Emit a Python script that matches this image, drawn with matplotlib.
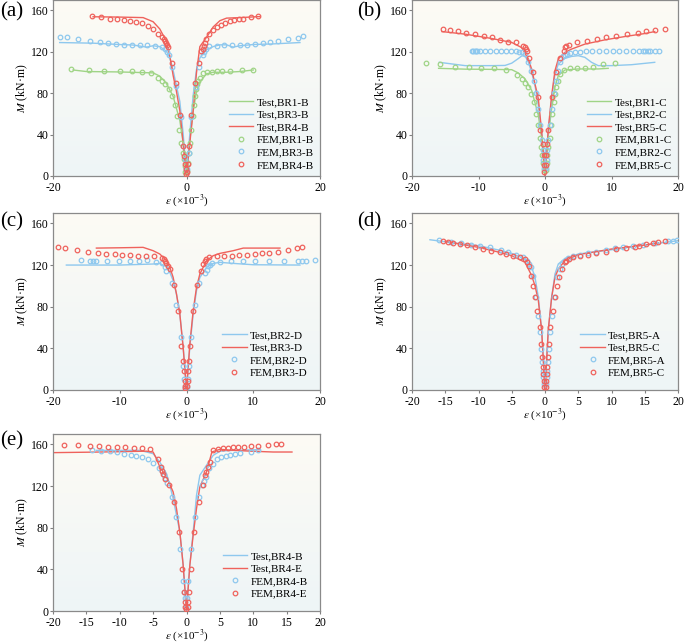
import numpy as np
import matplotlib
matplotlib.use('Agg')
import matplotlib.pyplot as plt
from matplotlib.colors import LinearSegmentedColormap

plt.rcParams['font.family'] = ['Liberation Serif', 'DejaVu Serif']
plt.rcParams['mathtext.fontset'] = 'stix'
plt.rcParams['axes.unicode_minus'] = False

GREEN = '#9fd486'
BLUE = '#8ec8ee'
RED = '#ef625c'

# ---- panel (a) ----
a_test_br1_x = [-17, -15, -10, -5, -4, -3, -2, -1, -0.5, 0, 0.5, 1, 1.5, 2, 3, 4, 6, 8, 10]
a_test_br1_y = [102.4, 100.9, 100.5, 99.6, 96.5, 89.3, 76.9, 53.5, 31.8, 0, 34.9, 62.9, 81.6, 90.9, 98.7, 100.2, 100.2, 100.9, 102.4]
a_test_br3_x = [-19, -14, -10, -8, -6, -5, -4, -3, -2.5, -2, -1, -0.5, 0, 0.5, 1, 1.5, 2, 3, 4, 5, 6, 7, 8, 10, 13, 17]
a_test_br3_y = [128.9, 128.3, 127, 126.5, 124.5, 125.8, 125, 120.5, 114, 102, 72, 41, 0, 41, 78, 103, 114, 122, 125, 126.7, 126.7, 124.5, 125.8, 127, 127.6, 128.9]
a_test_br4_x = [-14, -10, -6.5, -5, -4, -3, -2.5, -2, -1.5, -1, -0.5, 0, 0.5, 1, 1.5, 2, 3, 4, 5, 6, 8, 11]
a_test_br4_y = [153.8, 153.5, 153, 149, 142, 130, 116, 97, 81.5, 63, 32, 0, 32, 63, 100, 125, 134, 144, 150, 152.5, 153, 154]

a_fem_br1_x = [-17.35, -14.6, -12.4, -10, -8.15, -6.6, -5.35, -4.2, -3.65, -3.15, -2.6, -2.15, -1.7, -1.35, -1.05, -0.75, -0.55, -0.4, -0.25, -0.15,
               0.1, 0.2, 0.35, 0.5, 0.65, 0.95, 1.1, 1.25, 1.4, 1.6, 1.75, 2.0, 2.5, 3.1, 3.85, 4.6, 5.25, 6.5, 8.35, 10]
a_fem_br1_y = [103, 102.7, 101.2, 101.2, 101.2, 100.5, 99.6, 94.9, 91.8, 88.7, 84, 77.5, 68.5, 58.2, 44.8, 31.8, 22.4, 16.2, 10, 3.7,
               5.3, 13, 22.4, 31.8, 44.8, 58.2, 68.5, 77.5, 84, 88.7, 91.8, 94.9, 99.6, 100.2, 100.9, 101.2, 101.2, 101.2, 102.7, 102.7]
a_fem_br3_x = [-19, -17.9, -16.2, -14.4, -13, -11.75, -10.5, -9.4, -8.2, -7, -5.85, -4.65, -3.6, -3.2, -2.9, -2.65, -2.1, -1.5, -0.8, -0.45, -0.25, -0.1,
               0.1, 0.3, 0.65, 1.35, 1.85, 2.4, 2.6, 2.85, 3.4, 4.6, 5.65, 6.85, 8, 9.1, 10.25, 11.4, 12.5, 13.75, 15.25, 16.65, 17.5]
a_fem_br3_y = [134.5, 133.9, 132.3, 130.4, 129.2, 128.6, 127.6, 127, 127, 127, 126.7, 126, 124.8, 122.6, 119.5, 116.7, 104.9, 87.2, 56.7, 28.6, 16.2, 6.8,
               6.8, 22.4, 56.7, 86.2, 104.9, 116.4, 119.5, 122.6, 125.1, 126, 126.7, 127, 127, 127, 127.6, 128.2, 129.2, 130.4, 132.3, 133.5, 134.8]
a_fem_br4_x = [-14.1, -12.75, -11.5, -10.4, -9.4, -8.4, -7.5, -6.6, -5.75, -5.0, -4.2, -3.65, -3.35, -3.15, -3.0, -2.85, -2.75, -2.2, -1.5, -0.95, -0.55, -0.35, -0.2, -0.1, -0.05,
               0.1, 0.15, 0.3, 0.65, 1.2, 1.85, 2.2, 2.4, 2.55, 2.7, 2.85, 3.35, 4.0, 4.6, 5.15, 5.75, 6.5, 7.15, 7.8, 8.5, 9.6, 10.65]
a_fem_br4_y = [154.7, 153.2, 151.9, 151.3, 150.7, 150.0, 148.8, 148.2, 145.1, 141.6, 137.6, 134.5, 132.3, 130.5, 128.2, 126.7, 124.2, 109, 90.3, 58.8, 28.6, 19.3, 11.5, 6.8, 2,
               3.7, 11.5, 28.6, 58.8, 90.3, 109, 120.5, 123, 126, 128, 132, 137, 141.3, 143.8, 146.3, 147.9, 150, 151, 151.3, 151.9, 153.2, 154.4]

# ---- panel (b) ----
b_test_br1_x = [-16, -12, -8, -5, -4, -3, -2, -1, -0.5, 0, 0.5, 1, 1.5, 2, 3, 5, 8, 9.5]
b_test_br1_y = [104, 103.2, 103, 102.7, 99.5, 93.8, 82.6, 58.6, 36.2, 0, 39.4, 65, 85.8, 97, 102.4, 103.4, 103.4, 104]
b_test_br2_x = [-15.9, -12, -8, -6, -5, -4, -3.5, -3, -2.5, -2, -1.5, -1, -0.5, 0, 0.5, 1, 1.5, 2, 3, 4, 5, 6, 7, 8, 10, 13, 16.5]
b_test_br2_y = [109.8, 106.6, 106.6, 106.8, 109, 113.5, 116, 116, 109.8, 100, 87, 68, 42.6, 0, 42.6, 74.6, 98.6, 108, 113.6, 115.5, 116.2, 114.6, 109.8, 106.6, 106.6, 107.5, 109.8]
b_test_br5_x = [-15.5, -12, -8, -5, -3.5, -2.5, -2, -1, -0.5, 0, 0.5, 1, 1.5, 2, 3, 4, 6, 9, 12, 15, 16.5]
b_test_br5_y = [139.5, 137, 132.8, 129, 124, 113, 103, 74.6, 42.6, 0, 45.8, 77.8, 101.8, 113, 119.4, 122.6, 127.4, 131.5, 134.7, 137.6, 139.5]

b_fem_br1_x = [-17.95, -15.85, -13.5, -11.4, -9.6, -7.7, -5.9, -4.15, -3.4, -3.0, -2.5, -2.1, -1.7, -1.4, -1.1, -0.8, -0.55, -0.4, -0.25, -0.15,
               0.15, 0.25, 0.35, 0.5, 0.7, 0.9, 1.1, 1.3, 1.5, 1.7, 1.9, 2.2, 2.8, 3.7, 4.8, 6.0, 7.2, 8.7, 10.6]
b_fem_br1_y = [108.8, 108.2, 105.6, 104.9, 104.6, 104.3, 102.7, 97.6, 93.8, 89.9, 85.8, 79.4, 71.4, 60.2, 49, 36.8, 28.2, 20.2, 12.2, 5.8,
               5.8, 12.2, 20.2, 28.2, 36.8, 49, 60.2, 71.4, 79.4, 85.8, 92.2, 98.6, 102.7, 104, 104.3, 104.6, 105.3, 108.2, 108.8]
b_fem_br2_x = [-11, -10.8, -10.6, -10.4, -10.2, -9.7, -9, -8.2, -7.4, -6.6, -5.8, -5.1, -4.4, -3.9, -3.4, -3.05, -2.55, -2.05, -1.65, -1.3, -1.0, -0.7, -0.5, -0.35, -0.25, -0.15,
               0.15, 0.25, 0.35, 0.5, 0.7, 1.0, 1.3, 1.6, 1.9, 2.3, 2.7, 3.0, 3.3, 3.7, 4.5, 5.3, 6.2, 7.1, 8.1, 9.2, 10.2, 11.2, 12.2, 13.2, 14.2, 14.8, 15.1, 15.5, 15.8, 16.5, 17.1]
b_fem_br2_y = [120.6, 120.6, 120.6, 120.6, 120.6, 120.6, 120.6, 120.6, 120.6, 120.6, 120.6, 120.6, 120.4, 120, 119.5, 117.8, 109.8, 101.8, 92.2, 80, 65, 49.6, 34.6, 25, 15.4, 7.4,
               7.4, 15.4, 25, 34.6, 49.6, 65, 80, 92.2, 101.8, 109.8, 115.5, 116.8, 117.8, 118.7, 119.4, 120, 120.3, 120.6, 120.6, 120.6, 120.6, 120.6, 120.6, 120.6, 120.6, 120.6, 120.6, 120.6, 120.6, 120.6, 120.6]
b_fem_br5_x = [-15.3, -14.3, -13.1, -11.9, -10.6, -9.2, -7.9, -6.7, -5.55, -4.3, -3.35, -3.05, -2.9, -2.7, -2.4, -1.8, -1.1, -0.7, -0.35, -0.2, -0.1, -0.1,
               0.1, 0.2, 0.3, 0.5, 1.0, 1.6, 2.2, 2.8, 3.05, 3.2, 3.6, 4.8, 6.3, 7.8, 9.2, 10.7, 12.3, 14.0, 15.2, 16.6, 18.0]
b_fem_br5_y = [142.4, 141.1, 139.8, 138.6, 137, 135.4, 133.8, 131.5, 129.9, 129, 125.8, 124.2, 122.6, 121, 113.6, 100.8, 76.2, 44.2, 30.7, 20.2, 10.6, 4.2,
               10.6, 20.2, 30.7, 44.2, 76.2, 100.8, 113.6, 121, 124.2, 125.8, 126.4, 129, 130.6, 132.2, 133.8, 135.4, 137.3, 138.6, 139.8, 141.1, 142.4]

# ---- panel (c) ----
c_test_br2_x = [-18, -10, -5, -4, -3, -2.5, -2, -1.5, -1, -0.5, 0, 0.5, 1, 1.5, 2, 3, 4, 5, 7, 10, 17]
c_test_br2_y = [120, 120, 121, 121.6, 118.4, 113, 105, 92, 73, 41, 0, 41, 73, 95.4, 108, 117.8, 121.6, 122.6, 121.6, 120.3, 120]
c_test_br3_x = [-13.5, -10, -6.5, -5, -4, -3, -2.5, -2, -1.5, -1, -0.5, 0, 0.5, 1, 1.5, 2, 3, 4, 5, 7, 8.5, 10, 14]
c_test_br3_y = [136.3, 136.6, 137, 133.8, 130.6, 124.2, 117.8, 108.2, 92.2, 73, 41, 0, 44.2, 76.2, 98.6, 111.4, 124.2, 129, 131.2, 133.8, 136.3, 136.3, 136.3]

c_fem_br2_x = [-15.75, -14.5, -14, -13.5, -11.85, -10.1, -8.5, -7.15, -5.85, -4.5, -3.65, -3.25, -3.0, -2.15, -1.5, -0.85, -0.55, -0.35, -0.2,
               0.05, 0.15, 0.3, 0.6, 1.2, 1.85, 2.7, 3.0, 3.25, 3.5, 3.85, 5.0, 6.7, 8.5, 10.3, 12.3, 14.65, 16.65, 17.25, 17.9, 19.25]
c_fem_br2_y = [124.8, 124.2, 124.2, 124.2, 123.8, 123.8, 124.2, 124.2, 124.5, 123.2, 122.2, 117.8, 114.6, 102.7, 81.6, 50.6, 23.4, 10.6, 2.6,
               2.6, 10.6, 23.4, 50.6, 81.6, 102.7, 112, 115.2, 118.7, 120, 121.6, 123.2, 124.2, 124.2, 123.8, 123.8, 123.8, 124.2, 124.2, 124.2, 124.8]
c_fem_br3_x = [-19.25, -18.15, -16.4, -14.75, -13.25, -12, -10.75, -9.6, -8.4, -7.25, -6.0, -4.9, -3.65, -3.3, -3.15, -3.0, -2.75, -2.5, -1.9, -1.2, -0.75, -0.5, -0.35, -0.25, -0.2, -0.15,
               0.1, 0.15, 0.25, 0.35, 0.5, 0.9, 1.5, 2.1, 2.5, 2.7, 2.9, 3.4, 4.6, 5.6, 6.75, 7.9, 9.0, 10.2, 11.3, 12.4, 13.65, 15.15, 16.5, 17.25]
c_fem_br3_y = [137, 136, 134.4, 132.8, 131.2, 130.6, 130.6, 129.9, 129.6, 129, 128.6, 128.3, 126.7, 125.4, 124.2, 121.6, 119.4, 116.2, 101.1, 75.5, 42.6, 28.2, 18.6, 9, 4.2, 2,
               4.2, 9, 18.6, 28.2, 42.6, 75.5, 101.1, 114.6, 121, 124.2, 125.8, 127.4, 128.3, 129, 129, 129.6, 129.9, 130.6, 131.2, 131.8, 132.8, 134.7, 136, 137]

# ---- panel (d) ----
d_test_a_x = [-17.3, -14, -10, -7, -5, -3, -2, -1.5, -1, -0.5, 0, 0.5, 1, 1.5, 2, 3, 5, 10, 15, 20]
d_test_a_y = [144.3, 141.5, 138.6, 134.5, 131.2, 125.8, 117.8, 108.2, 89, 57, 0, 57, 89, 111.4, 121, 126.4, 130.6, 134.7, 139.2, 143.4]
d_test_c_x = [-15, -10, -7, -5, -3, -2, -1.5, -1, -0.5, 0, 0.5, 1, 1.5, 2, 3, 5, 10, 15, 17]
d_test_c_y = [142.7, 137, 132.5, 129, 122.6, 109.8, 100, 85.8, 57, 0, 58.6, 89, 108.2, 116.2, 124.2, 130, 135.4, 139.2, 141.4]

d_fem_a_x = [-16, -14.1, -12.6, -11.1, -9.8, -8.3, -6.6, -5.55, -4.3, -3.3, -2.7, -2.4, -2.15, -1.8, -1.3, -1.0, -0.8, -0.6, -0.45, -0.35, -0.25, -0.2,
             0.2, 0.25, 0.35, 0.45, 0.6, 0.8, 1.0, 1.3, 1.8, 2.2, 2.6, 3.0, 3.45, 4.2, 5.2, 6.45, 7.7, 9.2, 10.5, 11.7, 13.2, 14.7, 16.5, 18.5, 19.2, 19.85]
d_fem_a_y = [144, 141.8, 140.8, 139.5, 138.6, 137.6, 134.4, 132.8, 129.9, 127.4, 124.2, 121, 117.8, 109.1, 89, 71.4, 55.4, 39.4, 26.6, 18.6, 12.2, 5.8,
             5.8, 12.2, 18.6, 26.6, 39.4, 55.4, 71.4, 89, 108.2, 116.2, 121, 124.2, 126.7, 129, 129.9, 131.5, 132.8, 134.4, 136, 137.6, 138.6, 139.5, 140.8, 142.7, 143.4, 144]
d_fem_c_x = [-15.3, -14.6, -13.8, -12.8, -11.8, -10.6, -9.3, -8.1, -6.8, -5.8, -4.8, -3.8, -3.05, -2.7, -2.4, -2.1, -1.8, -1.5, -1.15, -0.8, -0.6, -0.45, -0.35, -0.25, -0.2, -0.15,
             0.15, 0.2, 0.25, 0.35, 0.45, 0.6, 0.8, 1.2, 1.45, 1.8, 2.1, 2.6, 3.0, 3.2, 3.6, 4.2, 5.2, 6.45, 7.7, 9.2, 10.7, 12.2, 13.5, 14.2, 15.2, 16.2, 17.0, 18.0]
d_fem_c_y = [143.4, 142.4, 141.4, 140.2, 139.2, 137, 135.4, 133.8, 132.2, 130.6, 129, 127.4, 125.8, 122.6, 119.4, 109.8, 100.2, 89, 76.2, 60.2, 44.2, 31.4, 21.8, 15.4, 9, 2.6,
             2.6, 9, 15.4, 21.8, 31.4, 44.2, 60.2, 76.2, 89.6, 100.2, 108.2, 116.2, 122.6, 124.2, 125.8, 127.4, 128.6, 129.9, 131.2, 132.8, 135.4, 136.3, 137.6, 137.9, 140.2, 140.8, 141.8, 143.4]

# ---- panel (e) ----
e_test_b_x = [-13.5, -10, -7, -5, -4, -3, -2.5, -2, -1, -0.5, 0, 0.5, 1, 1.5, 2, 3, 4, 5, 7, 11]
e_test_b_y = [154.3, 154.3, 154.3, 151.1, 143.1, 132, 120.8, 108, 76, 44, 0, 44, 76, 111.2, 130.4, 140, 149.5, 153.4, 154.3, 155]
e_test_e_x = [-20, -15, -10, -6, -5, -4.5, -4, -3, -2, -1.5, -1, -0.5, 0, 0.5, 1, 1.5, 2, 3, 3.8, 5, 7, 10, 13, 15.8]
e_test_e_y = [152.1, 152.5, 153, 153.5, 152.7, 146.3, 138.3, 128.8, 114.4, 98.4, 76, 44, 0, 44, 72.8, 98.4, 119.2, 133.5, 152.7, 155.3, 154.3, 153.4, 152.7, 152.7]

e_fem_b_x = [-14.1, -12.75, -11.5, -10.4, -9.35, -8.35, -7.5, -6.6, -5.8, -5.0, -4.15, -3.6, -3.35, -3.15, -2.9, -2.2, -1.5, -0.95, -0.55, -0.3, -0.15, -0.05,
             0.1, 0.25, 0.65, 1.2, 1.9, 2.35, 2.6, 2.85, 3.4, 4.0, 4.6, 5.2, 5.85, 6.5, 7.25, 8.0, 9.6, 10.65]
e_fem_b_y = [155, 154, 153.4, 152.7, 151.1, 150.2, 148.9, 147.9, 145.7, 142.5, 137.7, 134.2, 131, 127.8, 123.3, 109.6, 90.4, 59.4, 29.1, 18.5, 12.8, 4.2,
             12.8, 29.1, 59.4, 90.4, 109.6, 120.8, 124.6, 128.8, 137.4, 141.5, 145.7, 147.9, 148.9, 150.2, 151.1, 151.8, 152.7, 155]
e_fem_e_x = [-18.4, -16.25, -14.5, -13.1, -11.7, -10.4, -9.15, -7.9, -6.65, -5.4, -4.3, -3.85, -3.6, -3.45, -3.2, -2.65, -1.85, -1.15, -0.6, -0.35, -0.2, -0.15, -0.1,
             0.15, 0.25, 0.35, 0.6, 1.15, 1.8, 2.5, 2.75, 2.85, 3.15, 3.5, 3.9, 4.75, 5.5, 6.25, 7.0, 7.75, 8.65, 9.6, 10.75, 12.15, 13.35, 14.2]
e_fem_e_y = [159.7, 159.1, 158.5, 158.1, 157.8, 157.5, 157.2, 156.9, 156.2, 155.3, 146.3, 138.3, 134.2, 131.6, 127.2, 120.8, 104.8, 76, 40.3, 18.5, 8.9, 4.2, 2,
             4.2, 8.9, 18.5, 40.3, 76, 104.8, 120.8, 130.4, 133.5, 138.3, 143.1, 154.3, 155.9, 156.5, 156.9, 157.2, 157.5, 157.8, 158.1, 158.5, 159.4, 160, 160]


def add_background(ax):
    cmap = LinearSegmentedColormap.from_list('bg', ['#eef5f7', '#fdfbf4'])
    grad = np.linspace(0, 1, 256).reshape(-1, 1)
    ax.imshow(grad, cmap=cmap, aspect='auto', origin='lower',
              extent=[0, 1, 0, 1], transform=ax.transAxes, zorder=0)


def draw_panel(ax, tests, fems, xticks, pad):
    add_background(ax)
    for x, y, c, lab in tests:
        ax.plot(x, y, '-', color=c, lw=1.0, label=lab, zorder=2)
    for x, y, c, lab in fems:
        ax.plot(x, y, 'o', mfc='none', mec=c, mew=0.9, ms=3.3, label=lab, zorder=3, linestyle='none')
    ax.set_xlim(-20, 20)
    ax.set_ylim(0, 170)
    ax.set_xticks(xticks)
    ax.set_yticks([0, 40, 80, 120, 160])
    ax.tick_params(direction='out', length=2.5, width=0.8, color='#808080', labelsize=8.5)
    ax.tick_params(axis='x', pad=2.0)
    ax.tick_params(axis='y', pad=0.8)
    for s in ax.spines.values():
        s.set_color('#8a8a8a')
        s.set_linewidth(0.9)
    ax.set_xlabel(r'$\varepsilon$ (×10$^{-3}$)', fontsize=8, labelpad=-1.0)
    ax.set_ylabel(r'$M$ (kN·m)', fontsize=8.5, labelpad=0.5)
    ax.legend(loc='lower right', frameon=False, fontsize=8, handlelength=2.2,
              handletextpad=0.3, labelspacing=0.25, borderaxespad=pad, numpoints=1)


fig = plt.figure(figsize=(6.84, 6.44), dpi=100)
W, H = 684, 644


def make_axes(left, top, right, bottom):
    return fig.add_axes([left / W, (H - bottom) / H, (right - left) / W, (bottom - top) / H])


ax_a = make_axes(53, 0, 320, 176)
ax_b = make_axes(412, 0, 678, 176)
ax_c = make_axes(53, 213, 320, 390)
ax_d = make_axes(412, 213, 678, 390)
ax_e = make_axes(53, 434, 320, 611)

draw_panel(ax_a,
           [(a_test_br1_x, a_test_br1_y, GREEN, 'Test,BR1-B'),
            (a_test_br3_x, a_test_br3_y, BLUE, 'Test,BR3-B'),
            (a_test_br4_x, a_test_br4_y, RED, 'Test,BR4-B')],
           [(a_fem_br1_x, a_fem_br1_y, GREEN, 'FEM,BR1-B'),
            (a_fem_br3_x, a_fem_br3_y, BLUE, 'FEM,BR3-B'),
            (a_fem_br4_x, a_fem_br4_y, RED, 'FEM,BR4-B')],
           [-20, 0, 20], 0.15)
draw_panel(ax_b,
           [(b_test_br1_x, b_test_br1_y, GREEN, 'Test,BR1-C'),
            (b_test_br2_x, b_test_br2_y, BLUE, 'Test,BR2-C'),
            (b_test_br5_x, b_test_br5_y, RED, 'Test,BR5-C')],
           [(b_fem_br1_x, b_fem_br1_y, GREEN, 'FEM,BR1-C'),
            (b_fem_br2_x, b_fem_br2_y, BLUE, 'FEM,BR2-C'),
            (b_fem_br5_x, b_fem_br5_y, RED, 'FEM,BR5-C')],
           [-20, -10, 0, 10, 20], 0.15)
draw_panel(ax_c,
           [(c_test_br2_x, c_test_br2_y, BLUE, 'Test,BR2-D'),
            (c_test_br3_x, c_test_br3_y, RED, 'Test,BR3-D')],
           [(c_fem_br2_x, c_fem_br2_y, BLUE, 'FEM,BR2-D'),
            (c_fem_br3_x, c_fem_br3_y, RED, 'FEM,BR3-D')],
           [-20, -10, 0, 10, 20], 0.7)
draw_panel(ax_d,
           [(d_test_a_x, d_test_a_y, BLUE, 'Test,BR5-A'),
            (d_test_c_x, d_test_c_y, RED, 'Test,BR5-C')],
           [(d_fem_a_x, d_fem_a_y, BLUE, 'FEM,BR5-A'),
            (d_fem_c_x, d_fem_c_y, RED, 'FEM,BR5-C')],
           [-20, -15, -10, -5, 0, 5, 10, 15, 20], 0.7)
draw_panel(ax_e,
           [(e_test_b_x, e_test_b_y, BLUE, 'Test,BR4-B'),
            (e_test_e_x, e_test_e_y, RED, 'Test,BR4-E')],
           [(e_fem_b_x, e_fem_b_y, BLUE, 'FEM,BR4-B'),
            (e_fem_e_x, e_fem_e_y, RED, 'FEM,BR4-E')],
           [-20, -15, -10, -5, 0, 5, 10, 15, 20], 0.7)

# panel tags
for tag, x, y in [('(a)', 0, 12), ('(b)', 357, 12), ('(c)', 0, 222), ('(d)', 357, 222), ('(e)', 0, 441)]:
    fig.text(x / W, 1 - y / H, tag, fontsize=15, ha='left', va='center')

fig.savefig('out.png', dpi=100)
